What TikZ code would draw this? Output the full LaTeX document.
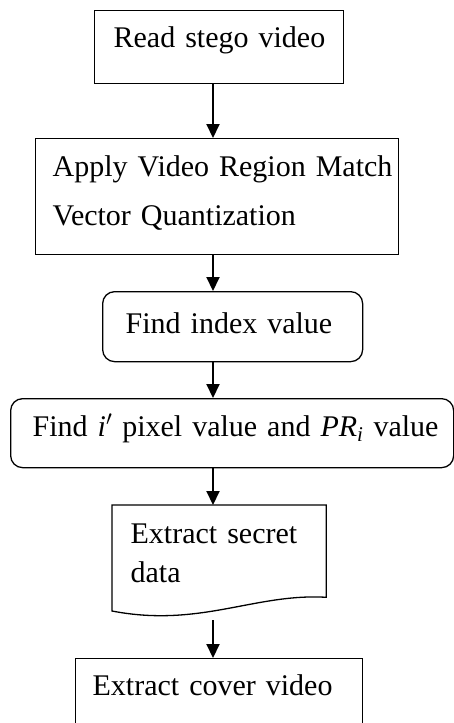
\documentclass[tikz,border=0pt]{standalone}
\usepackage{fix-cm}
\usepackage{fontspec}
\setmainfont{Liberation Serif}
\usetikzlibrary{arrows.meta}

\begin{document}
\begin{tikzpicture}[
  x=1pt, y=-1pt,
  stepbox/.style={draw, line width=1.3pt, anchor=north west, inner ysep=0pt,
    align=left, font=\fontsize{30}{39}\selectfont},
  flow/.style={line width=2pt, -{Triangle[length=14pt,width=13pt]}}
]

\clip (0,0) rectangle (454,723);
\coordinate (axis) at (213,0);

\node [stepbox, inner xsep=19pt, text width=211pt, text height=37.5pt, text depth=36pt]
  (read) at (94,9.5) {\mbox{Read stego video}};
\node [stepbox, inner xsep=17pt, text width=329pt, text height=38pt, text depth=77.5pt]
  (apply) at (35,138) {\mbox{Apply Video Region Match}\\[10pt]\mbox{Vector Quantization}};
\node [stepbox, rounded corners=12pt, inner xsep=23pt, text width=214pt, text height=42pt, text depth=28pt]
  (index) at (102,291) {\mbox{Find index value}};
\node [stepbox, rounded corners=12pt, inner xsep=22pt, text width=399pt, text height=38pt, text depth=31pt]
  (pixel) at (10,398) {\mbox{Find \textit{i}$'$ pixel value and \textit{PR}\textsubscript{\textit{i}} value}};
\node [stepbox, draw=none, inner xsep=18pt, text width=177pt, text height=38pt, text depth=53pt]
  (data) at (112,505) {\mbox{Extract secret}\\\mbox{data}};
\draw [line width=1.3pt] (data.north west) -- (data.north east) -- (data.south east)
  .. controls (255,593) and (200,628) .. (112,611) -- cycle;
\coordinate (dataend) at (213,620);
\node [stepbox, inner xsep=17pt, text width=253pt, text height=37pt, text depth=80pt]
  (cover) at (75,658) {\mbox{Extract cover video}};

\draw [flow] (read.south -| axis) -- (apply.north -| axis);
\draw [flow] (apply.south -| axis) -- (index.north -| axis);
\draw [flow] (index.south -| axis) -- (pixel.north -| axis);
\draw [flow] (pixel.south -| axis) -- (data.north -| axis);
\draw [flow] (dataend) -- (cover.north -| axis);

\end{tikzpicture}
\end{document}
